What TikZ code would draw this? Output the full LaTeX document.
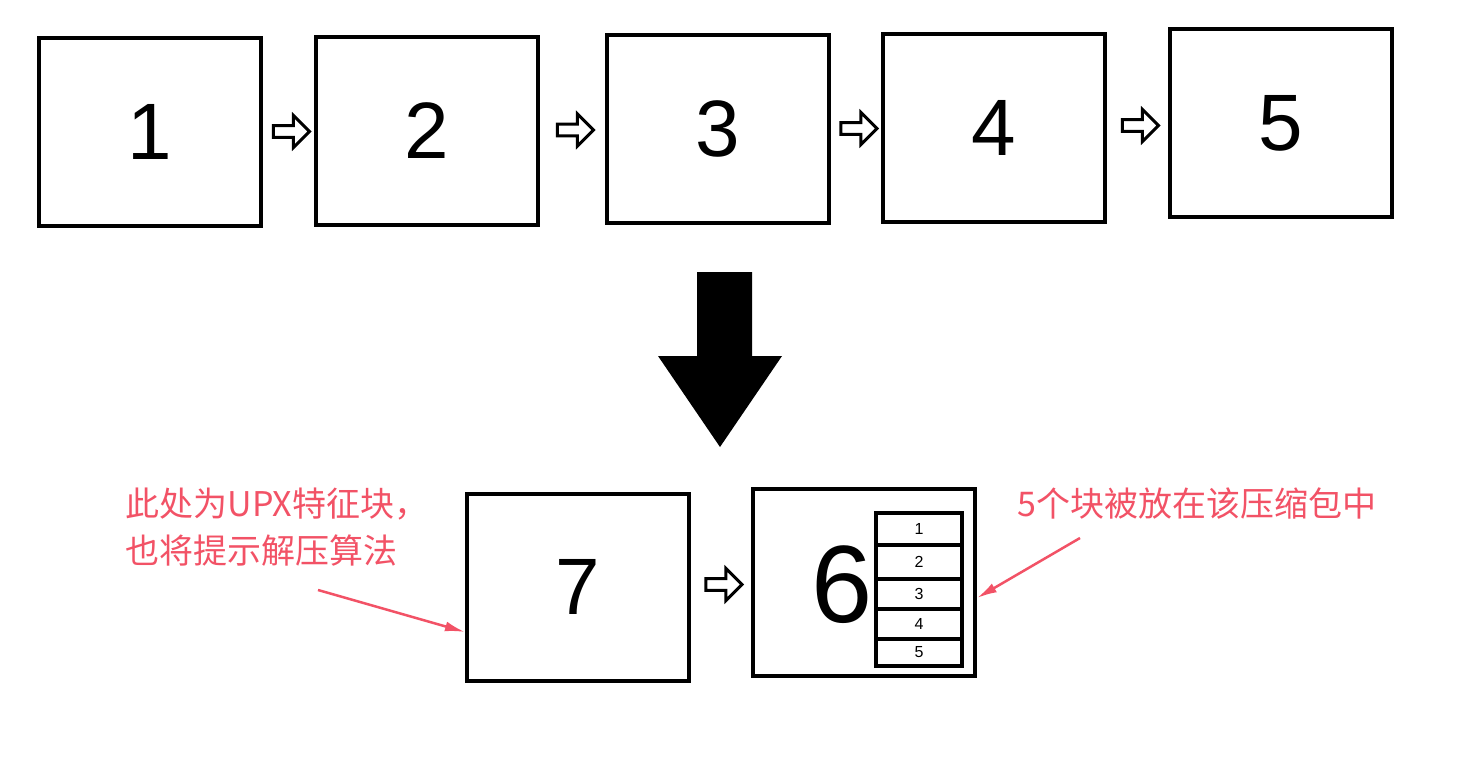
\documentclass[tikz,border=0pt]{standalone}
\usepackage{fontspec}
\setmainfont{Liberation Sans}
\newfontfamily\cjk{Noto Sans CJK SC}
\usetikzlibrary{calc,positioning,shapes.arrows,arrows.meta}
\definecolor{notered}{RGB}{242,82,102}
\tikzset{
	frame/.style={draw=black, line width=4pt, minimum width=222pt, minimum height=187pt, font=\fontsize{80}{90}\selectfont},
	hollow/.style={single arrow, draw=black, line width=3pt, fill=white, minimum height=36pt, minimum width=32pt, single arrow head extend=6pt, inner sep=2pt},
	cell/.style={draw=black, line width=3.5pt, minimum width=86pt, font=\fontsize{16}{18}\selectfont, inner sep=0pt},
	note/.style={text=notered, font=\cjk\fontsize{34}{47}\selectfont, align=left},
	pointer/.style={-{Latex[length=20pt,width=10pt]}, draw=notered, line width=2.5pt}
}
\begin{document}
\begin{tikzpicture}[x=1pt,y=-1pt]
	\useasboundingbox (0,0) rectangle (1482,762);
	\node[frame] (b1) at (150,132) {1};
	\node[frame] (b2) at (427,131) {2};
	\node[frame] (b3) at (718,129) {3};
	\node[frame] (b4) at (994,128) {4};
	\node[frame] (b5) at (1281,123) {5};
	
	\foreach \a/\b in {1/2,2/3,3/4,4/5}
		\node[hollow] (h\a) at ($(b\a.east)!0.5!(b\b.west)$) {};
	
	% big arrow down
	\fill (697,272) -- (752,272) -- (752,356) -- (782,356) -- (720,447) -- (658,356) -- (697,356) -- cycle;
	
	\node[frame] (b7) at (578,587) {7};
	\node[frame] (b6) at (864,582) {};
	\node[hollow] (h6) at ($(b7.east)!0.5!(b6.west)$) {};
	\node[font=\fontsize{110}{120}\selectfont] (six) at (842,585) {6};
	
	% packed blocks
	\node[cell, minimum height=32pt] (c1) at (919,529) {1};
	\node[cell, minimum height=34pt, below=-3.5pt of c1] (c2) {2};
	\node[cell, minimum height=30pt, below=-3.5pt of c2] (c3) {3};
	\node[cell, minimum height=30pt, below=-3.5pt of c3] (c4) {4};
	\node[cell, minimum height=27pt, below=-3.5pt of c4] (c5) {5};
	
	\node[note, anchor=north west] (t1) at (122,484) {此处为UPX特征块，\\也将提示解压算法};
	\node[note, anchor=north west] (t2) at (1014,484) {5个块被放在该压缩包中};
	\coordinate (p1) at (318,590);
	\coordinate (p2) at (1080,538);
	\draw[pointer] (p1) -- (b7.west |- 0,632);
	\draw[pointer] (p2) -- (b6.east |- 0,598);
\end{tikzpicture}
\end{document}
